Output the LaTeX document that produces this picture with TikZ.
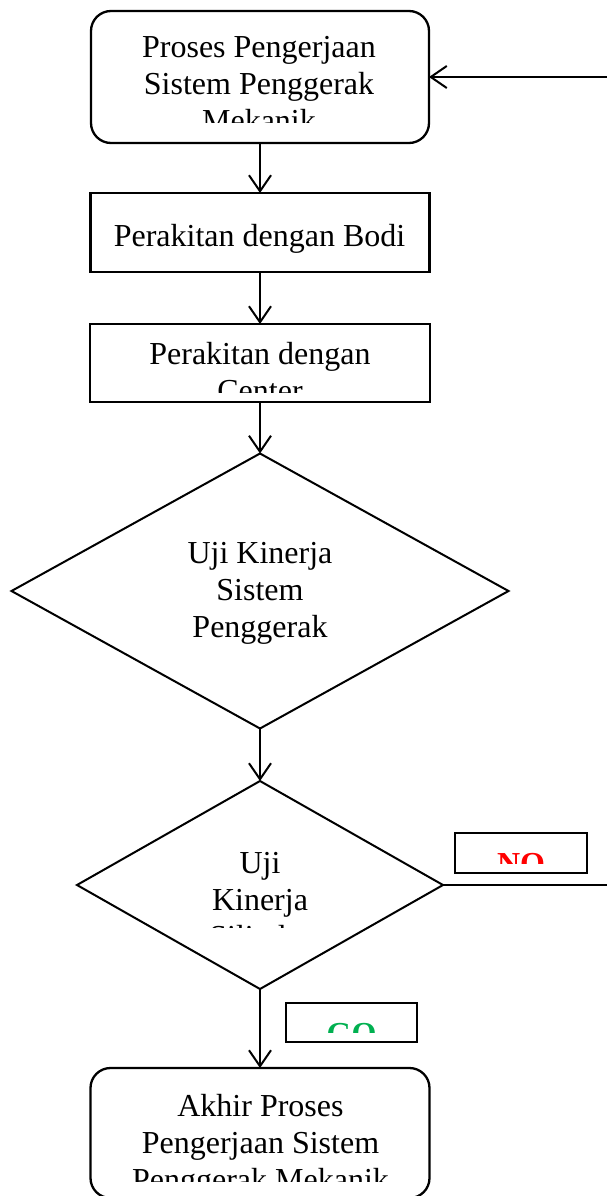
\documentclass[tikz,border=0pt]{standalone}
\usepackage{fontspec}
\setmainfont{Liberation Serif}
\usetikzlibrary{arrows.meta,shapes.geometric}
\definecolor{gogreen}{RGB}{0,176,80}
\begin{document}
\begin{tikzpicture}[x=1pt,y=-1pt,
  box/.style={draw,line width=2.3pt,inner sep=0pt,outer sep=0pt},
  rbox/.style={box,rounded corners=20pt},
  dia/.style={draw,diamond,line width=2pt,inner sep=0pt,outer sep=0pt},
  txt/.style={inner sep=0pt,align=center,anchor=north,font=\fontsize{32}{37}\selectfont},
  lbl/.style={inner sep=0pt,anchor=base,font=\fontsize{32}{37}\selectfont\bfseries},
  arr/.style={line width=2pt,-{Straight Barb[length=16pt,width=22pt,line width=2pt]}}]
\useasboundingbox (0,0) rectangle (606,1196);
% shapes
\node[rbox,minimum width=338pt,minimum height=132pt] (top) at (260,77) {};
\node[box,minimum width=339pt,minimum height=79pt] (bodi) at (260,232.5) {};
\node[box,minimum width=340pt,minimum height=78pt] (center) at (260,363) {};
\node[dia,minimum width=497pt,minimum height=275pt] (d1) at (260,591) {};
\node[dia,minimum width=366pt,minimum height=208pt] (d2) at (260,885) {};
\node[rbox,minimum width=339pt,minimum height=130pt] (bot) at (260,1133) {};
\node[box,minimum width=132pt,minimum height=40pt] (nobox) at (521,853) {};
\node[box,minimum width=131pt,minimum height=39pt] (gobox) at (351.5,1022.5) {};
% texts (clipped as in the original)
\begin{scope}
\clip (90,10) rectangle (428,123);
\node[txt] (ttop) at (259,36) {Proses Pengerjaan\\Sistem Penggerak\\Mekanik};
\end{scope}
\node[txt] (tbodi) at (259.5,224) {Perakitan dengan Bodi};
\begin{scope}
\clip (90,324) rectangle (430,392);
\node[txt] (tcenter) at (260,342) {Perakitan dengan\\Center};
\end{scope}
\node[txt] (td1) at (260,542) {Uji Kinerja\\Sistem\\Penggerak};
\begin{scope}
\clip (77,781) rectangle (443,927);
\node[txt] (td2) at (260,852) {Uji\\Kinerja\\Silinder};
\end{scope}
\begin{scope}
\clip (455,833) rectangle (587,863);
\node[lbl,text=red] (tno) at (521,874) {NO};
\end{scope}
\begin{scope}
\clip (286,1003) rectangle (417,1032);
\node[lbl,text=gogreen] (tgo) at (351.5,1044) {GO};
\end{scope}
\begin{scope}
\clip (91,1068) rectangle (430,1181);
\node[txt] (tbot) at (260.5,1094) {Akhir Proses\\Pengerjaan Sistem\\Penggerak Mekanik};
\end{scope}
% connectors
\coordinate (loop) at (640,885);
\draw[arr] (top.south) -- (bodi.north);
\draw[arr] (bodi.south) -- (center.north);
\draw[arr] (center.south) -- (d1.north);
\draw[arr] (d1.south) -- (d2.north);
\draw[arr] (d2.south) -- (bot.north);
\draw[arr] (d2.east) -- (loop) |- (top.east);
\end{tikzpicture}
\end{document}
